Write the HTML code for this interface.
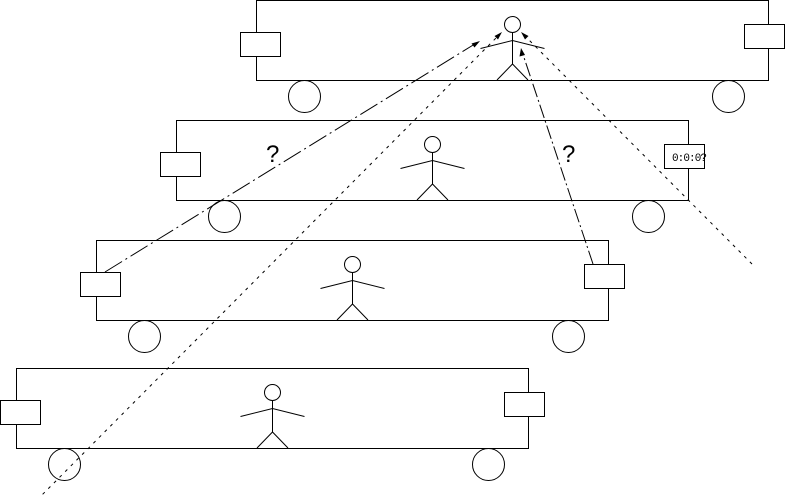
<!DOCTYPE html>
<html>
<head>
<meta charset="utf-8">
<style>
  html, body { margin: 0; padding: 0; background: #fff; }
  body { width: 785px; height: 497px; overflow: hidden; }
  svg { display: block; }
  text { font-family: "Liberation Sans", sans-serif; fill: #000; }
</style>
</head>
<body>
<svg width="785" height="497" viewBox="0 0 785 497" xmlns="http://www.w3.org/2000/svg">
  <g fill="none" stroke="#000" stroke-width="1">
    <!-- Car 1 -->
    <rect x="256.5" y="0.5" width="512" height="80" shape-rendering="crispEdges"/>
    <rect x="240.5" y="32.5" width="40" height="24" fill="#fff" shape-rendering="crispEdges"/>
    <rect x="744.5" y="24.5" width="40" height="24" fill="#fff" shape-rendering="crispEdges"/>
    <circle cx="304.5" cy="96.5" r="16"/>
    <circle cx="728.5" cy="96.5" r="16"/>
    <!-- figure 1 -->
    <circle cx="512.5" cy="24.5" r="8"/>
    <line x1="512.5" y1="32" x2="512.5" y2="64"/>
    <polyline points="480.5,48.5 512.5,40.5 544.5,48.5"/>
    <polyline points="497,80 512.5,64 528,80"/>

    <!-- Car 2 -->
    <rect x="176.5" y="120.5" width="512" height="80" shape-rendering="crispEdges"/>
    <rect x="160.5" y="152.5" width="40" height="24" fill="#fff" shape-rendering="crispEdges"/>
    <rect x="664.5" y="144.5" width="40" height="24" fill="#fff" shape-rendering="crispEdges"/>
    <circle cx="224.5" cy="216.5" r="16"/>
    <circle cx="648.5" cy="216.5" r="16"/>
    <circle cx="432.5" cy="144.5" r="8"/>
    <line x1="432.5" y1="152" x2="432.5" y2="184"/>
    <polyline points="400.5,168.5 432.5,160.5 464.5,168.5"/>
    <polyline points="417,200 432.5,184 448,200"/>

    <!-- Car 3 -->
    <rect x="96.5" y="240.5" width="512" height="80" shape-rendering="crispEdges"/>
    <rect x="80.5" y="272.5" width="40" height="24" fill="#fff" shape-rendering="crispEdges"/>
    <rect x="584.5" y="264.5" width="40" height="24" fill="#fff" shape-rendering="crispEdges"/>
    <circle cx="144.5" cy="336.5" r="16"/>
    <circle cx="568.5" cy="336.5" r="16"/>
    <circle cx="352.5" cy="264.5" r="8"/>
    <line x1="352.5" y1="272" x2="352.5" y2="304"/>
    <polyline points="320.5,288.5 352.5,280.5 384.5,288.5"/>
    <polyline points="337,320 352.5,304 368,320"/>

    <!-- Car 4 -->
    <rect x="16.5" y="368.5" width="512" height="80" shape-rendering="crispEdges"/>
    <rect x="0.5" y="400.5" width="40" height="24" fill="#fff" shape-rendering="crispEdges"/>
    <rect x="504.5" y="392.5" width="40" height="24" fill="#fff" shape-rendering="crispEdges"/>
    <circle cx="64.5" cy="464.5" r="16"/>
    <circle cx="488.5" cy="464.5" r="16"/>
    <circle cx="272.5" cy="392.5" r="8"/>
    <line x1="272.5" y1="400" x2="272.5" y2="432"/>
    <polyline points="240.5,416.5 272.5,408.5 304.5,416.5"/>
    <polyline points="257,448 272.5,432 288,448"/>

    <!-- Connectors -->
    <line x1="105" y1="272" x2="474" y2="44.5" stroke-dasharray="20,4,2,4"/>
    <line x1="37" y1="500" x2="497" y2="37" stroke-dasharray="3,5"/>
    <line x1="593" y1="264" x2="523.5" y2="56" stroke-dasharray="14,3,2,3"/>
    <line x1="752" y1="264" x2="526" y2="37" stroke-dasharray="3,5"/>
  </g>

  <!-- Arrowheads -->
  <g fill="#000" stroke="none">
    <polygon points="480,41 471.5,43.5 474.5,47.5"/>
    <polygon points="502,32 494.5,36 498,39.5"/>
    <polygon points="521,48 519.5,56.5 525,55"/>
    <polygon points="521,32 525,39.5 528.5,36"/>
  </g>

  <!-- Labels -->
  <text x="266" y="162" font-size="24">?</text>
  <text x="562" y="162" font-size="24">?</text>
  <text x="672" y="161" font-size="11" textLength="35" lengthAdjust="spacing" style="font-family: 'Liberation Mono', monospace;">0:0:0?</text>
</svg>
</body>
</html>
